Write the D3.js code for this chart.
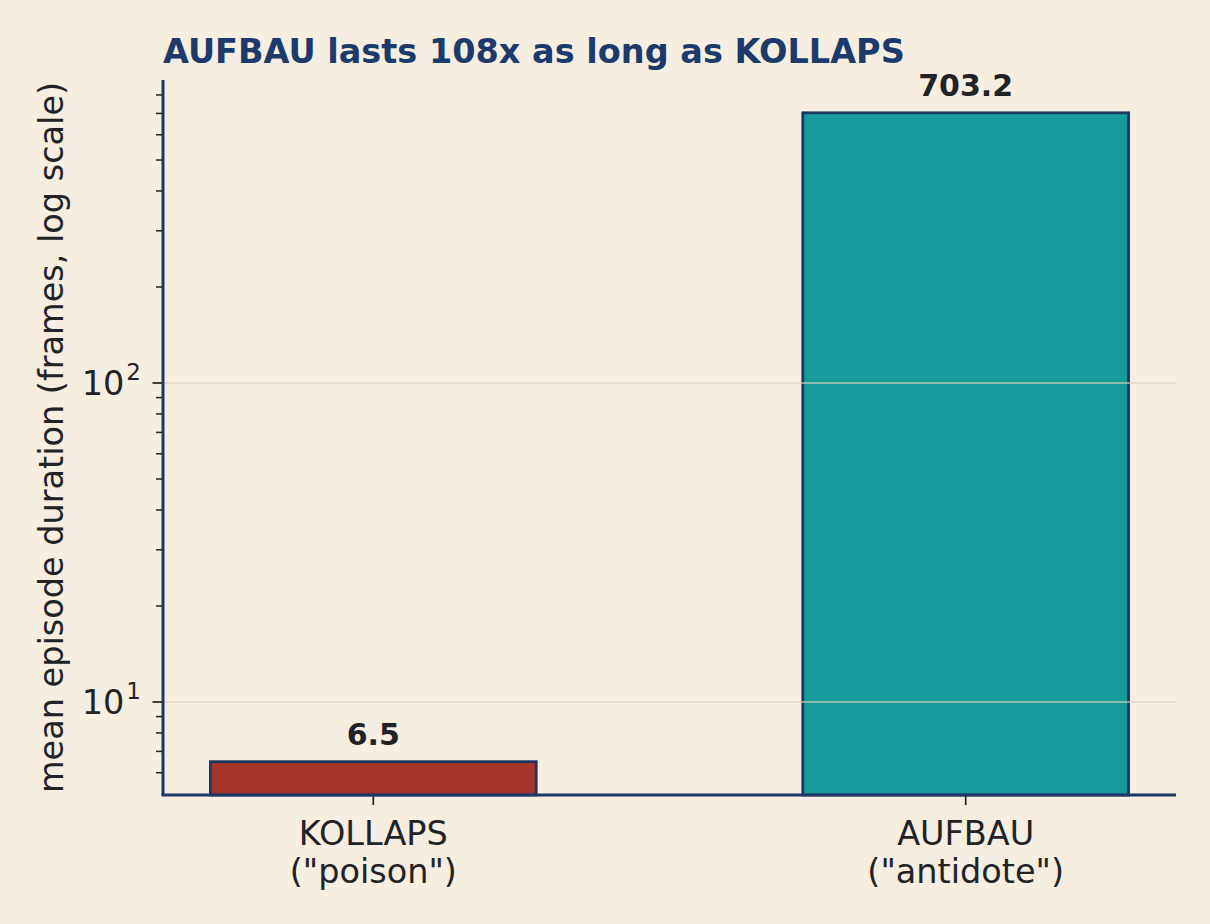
<!DOCTYPE html>
<html>
<head>
<meta charset="utf-8">
<script src="https://cdn.jsdelivr.net/npm/d3@7"></script>
<style>
  body { margin: 0; background: #f6eee0; }
  text { font-family: "DejaVu Sans", sans-serif; }
</style>
</head>
<body>
<div id="chart"></div>
<script>
//data
const categories = ['KOLLAPS', 'AUFBAU']
const subLabels = ['("poison")', '("antidote")']
const durations = [6.5, 703.2]
const barColors = ['#a4352a', '#169a9b']
const majorTicks = [10, 100]
const minorTicks = [6, 7, 8, 9, 20, 30, 40, 50, 60, 70, 80, 90, 200, 300, 400, 500, 600, 700, 800]

//dimensions
const W = 1210, H = 924
const margin = {top: 80, right: 34, bottom: 129, left: 163},
  width = W - margin.left - margin.right,
  height = H - margin.top - margin.bottom

const navy = '#1e3763', ink = '#222326'

const svg = d3.select('#chart')
.append('svg')
  .attr('width', W)
  .attr('height', H)
  .style('background', '#f6eee0')

const g = svg.append('g')
  .attr('transform', `translate(${margin.left}, ${margin.top})`)

//scales
const x = d3.scalePoint()
  .domain(categories)
  .range([0, width])
  .padding(0.355)
const barW = x.step() * 0.55

const y = d3.scaleLog()
  .domain([5.11, 891])
  .range([height, 0])

//bars
g.selectAll('rect.bar')
  .data(categories)
  .join('rect')
    .attr('class', 'bar')
    .attr('x', d => x(d) - barW / 2)
    .attr('y', (d, i) => y(durations[i]))
    .attr('width', barW)
    .attr('height', (d, i) => height - y(durations[i]))
    .style('fill', (d, i) => barColors[i])
    .style('stroke', navy)
    .style('stroke-width', 2.8)

//grid on major ticks
g.selectAll('line.grid')
  .data(majorTicks)
  .join('line')
    .attr('x1', 0).attr('x2', width)
    .attr('y1', d => y(d)).attr('y2', d => y(d))
    .style('stroke', '#e0d3be')
    .style('stroke-opacity', 0.8)
    .style('stroke-width', 1.6)

//value labels
g.selectAll('text.val')
  .data(categories)
  .join('text')
    .attr('x', d => x(d))
    .attr('y', (d, i) => y(durations[i]) - 17)
    .attr('text-anchor', 'middle')
    .style('font-size', '30px')
    .style('font-weight', 'bold')
    .style('fill', ink)
    .text((d, i) => durations[i].toFixed(1))

//y axis: minor ticks
g.selectAll('line.minor')
  .data(minorTicks)
  .join('line')
    .attr('x1', -7).attr('x2', 0)
    .attr('y1', d => y(d)).attr('y2', d => y(d))
    .style('stroke', ink)
    .style('stroke-width', 1.5)

//y axis: major ticks
g.selectAll('line.major')
  .data(majorTicks)
  .join('line')
    .attr('x1', -10.5).attr('x2', 0)
    .attr('y1', d => y(d)).attr('y2', d => y(d))
    .style('stroke', ink)
    .style('stroke-width', 1.7)

const ylab = g.selectAll('text.ytick')
  .data(majorTicks)
  .join('text')
    .attr('x', -22)
    .attr('y', d => y(d) + 12)
    .attr('text-anchor', 'end')
    .style('font-size', '33.5px')
    .style('fill', ink)
ylab.append('tspan').text('10')
ylab.append('tspan')
  .attr('dx', 2)
  .attr('dy', -15)
  .style('font-size', '23px')
  .text(d => Math.round(Math.log10(d)))

//x axis ticks and labels
g.selectAll('line.xtick')
  .data(categories)
  .join('line')
    .attr('x1', d => x(d)).attr('x2', d => x(d))
    .attr('y1', height).attr('y2', height + 10)
    .style('stroke', ink)
    .style('stroke-width', 1.7)

const xl = g.selectAll('text.xtick')
  .data(categories)
  .join('text')
    .attr('text-anchor', 'middle')
    .style('font-size', '33.5px')
    .style('fill', ink)
xl.append('tspan')
  .attr('x', d => x(d))
  .attr('y', height + 50)
  .text(d => d)
xl.append('tspan')
  .attr('x', d => x(d))
  .attr('y', height + 88)
  .text((d, i) => subLabels[i])

//spines
g.append('line')
  .attr('x1', 0).attr('x2', 0)
  .attr('y1', 0).attr('y2', height)
  .style('stroke', navy).style('stroke-width', 3)
g.append('line')
  .attr('x1', -1.5).attr('x2', width)
  .attr('y1', height).attr('y2', height)
  .style('stroke', navy).style('stroke-width', 3)

//y label
svg.append('text')
  .attr('transform', `translate(63, ${margin.top + height / 2}) rotate(-90)`)
  .attr('text-anchor', 'middle')
  .style('font-size', '33.5px')
  .style('fill', ink)
  .text('mean episode duration (frames, log scale)')

//title
svg.append('text')
  .attr('x', margin.left)
  .attr('y', 63)
  .style('font-size', '33.5px')
  .style('font-weight', 'bold')
  .style('fill', '#1c3a6b')
  .text('AUFBAU lasts 108x as long as KOLLAPS')
</script>
</body>
</html>
